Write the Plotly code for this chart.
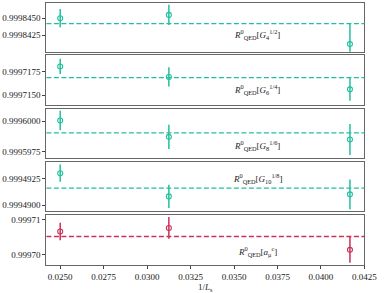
import plotly.graph_objects as go

# Data
inv_Ls = [1/40, 1/32, 1/24]
labels = [
    "<i>R</i><sup>0</sup><sub>QED</sub>[<i>G</i><sub>4</sub><sup>1/2</sup>]",
    "<i>R</i><sup>0</sup><sub>QED</sub>[<i>G</i><sub>6</sub><sup>1/4</sup>]",
    "<i>R</i><sup>0</sup><sub>QED</sub>[<i>G</i><sub>8</sub><sup>1/6</sup>]",
    "<i>R</i><sup>0</sup><sub>QED</sub>[<i>G</i><sub>10</sub><sup>1/8</sup>]",
    "<i>R</i><sup>0</sup><sub>QED</sub>[<i>a</i><sub>μ</sub><sup>c</sup>]",
]
values_G4 = [0.99984500, 0.99984549, 0.99984118]
errors_G4 = [1.35e-6, 1.5e-6, 3.1e-6]
fit_G4 = 0.9998442
values_G6 = [0.99971803, 0.99971691, 0.99971560]
errors_G6 = [0.81e-6, 1.02e-6, 1.2e-6]
fit_G6 = 0.99971684
values_G8 = [0.99960006, 0.99959871, 0.99959849]
errors_G8 = [0.81e-6, 1.0e-6, 1.28e-6]
fit_G8 = 0.99959904
values_G10 = [0.99949302, 0.99949084, 0.99949103]
errors_G10 = [0.81e-6, 1.1e-6, 1.4e-6]
fit_G10 = 0.99949162
values_amu = [0.99970657, 0.99970760, 0.99970131]
errors_amu = [0.25e-5, 0.31e-5, 0.37e-5]
fit_amu = 0.99970514

yticks = [
    [0.9998425, 0.9998450],
    [0.9997150, 0.9997175],
    [0.9995975, 0.9996000],
    [0.9994900, 0.9994925],
    [0.99970, 0.99971],
]
ytick_fmt = [".7f", ".7f", ".7f", ".7f", ".5f"]
yranges = [
    [0.99984004, 0.99984725],
    [0.99971398, 0.99971926],
    [0.99959692, 0.99960105],
    [0.99948944, 0.99949403],
    [0.99969694, 0.99971123],
]
xticks = [0.0250, 0.0275, 0.0300, 0.0325, 0.0350, 0.0375, 0.0400, 0.0425]
x_title = "1/<i>L</i><sub>s</sub>"

series = [
    (values_G4, errors_G4, fit_G4),
    (values_G6, errors_G6, fit_G6),
    (values_G8, errors_G8, fit_G8),
    (values_G10, errors_G10, fit_G10),
    (values_amu, errors_amu, fit_amu),
]
teal = "#22bf9f"
crimson = "#c9305a"
colors = [teal, teal, teal, teal, crimson]

W, H = 390, 293
panel_px = [(2, 51), (54, 104), (108, 158), (162, 211), (215, 265)]
label_y_px = [33.5, 89, 145, 178.5, 251.5]
xdom = [48 / W, 377 / W]

font = dict(family="Liberation Serif, DejaVu Serif, serif", size=9, color="#222")

fig = go.Figure()
layout = dict(
    width=W, height=H, margin=dict(l=0, r=0, t=0, b=0),
    paper_bgcolor="white", plot_bgcolor="white", showlegend=False, font=font,
)
for i, (vals, errs, fit) in enumerate(series):
    n = "" if i == 0 else str(i + 1)
    top, bot = panel_px[i]
    last = i == len(series) - 1
    layout["xaxis" + n] = dict(
        domain=xdom, range=[0.024206, 0.0425], anchor="y" + n,
        showline=True, mirror=True, linecolor="#666", linewidth=1,
        showgrid=False, zeroline=False,
        ticks="outside" if last else "", ticklen=3, tickcolor="#444",
        tickvals=xticks, tickformat=".4f", showticklabels=last,
        matches=None if i == 0 else "x",
    )
    layout["yaxis" + n] = dict(
        domain=[1 - bot / H, 1 - top / H], range=yranges[i], anchor="x" + n,
        showline=True, mirror=True, linecolor="#666", linewidth=1,
        showgrid=False, zeroline=False, ticks="outside", ticklen=3, tickcolor="#444",
        tickvals=yticks[i], tickformat=ytick_fmt[i],
    )
    fig.add_trace(go.Scatter(
        x=inv_Ls, y=vals, mode="markers",
        xaxis="x" + n, yaxis="y" + n,
        marker=dict(symbol="circle-open", size=5, color=colors[i], line=dict(width=1.1, color=colors[i])),
        error_y=dict(type="data", array=errs, visible=True, color=colors[i], thickness=1.5, width=0),
    ))
    fig.add_shape(type="line", xref="x" + n + " domain", yref="y" + n,
                  x0=0, x1=1, y0=fit, y1=fit,
                  line=dict(color=colors[i], width=1.3, dash="5px,2.5px"))
    fig.add_annotation(text=labels[i], xref="paper", yref="paper",
                       x=266 / W, y=1 - label_y_px[i] / H, xanchor="center", yanchor="middle",
                       showarrow=False, font=font)

fig.add_annotation(text=x_title, xref="paper", yref="paper",
                   x=(48 + 377) / 2 / W, y=1 - 287 / H, xanchor="center", yanchor="middle",
                   showarrow=False, font=font)

fig.update_layout(**layout)
fig.write_html("out.html", config={"displayModeBar": False},
               post_script="document.body.style.margin='0';document.body.style.overflow='hidden';")
